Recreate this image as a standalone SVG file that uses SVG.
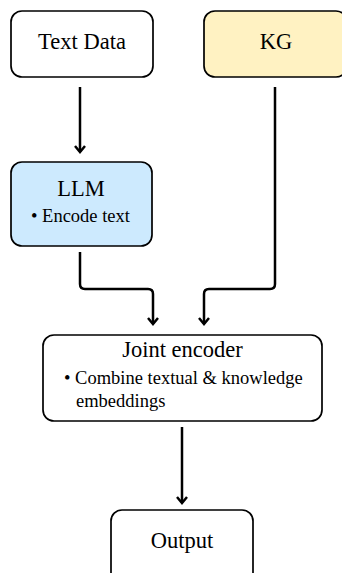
<svg xmlns="http://www.w3.org/2000/svg" width="342" height="573" viewBox="0 0 342 573">
<style>
.box{stroke:#000;stroke-width:1.7}
.t{font-family:"Liberation Serif","Times New Roman",serif;fill:#000}
.title{font-size:22.5px;text-anchor:middle}
.body{font-size:18.5px}
.c{fill:none;stroke:#000;stroke-width:2.5}
</style>
<defs>
<marker id="ah" viewBox="-9 -7 11 14" refX="0" refY="0" markerWidth="11" markerHeight="14" orient="auto" markerUnits="userSpaceOnUse">
<path d="M-6,-5 L0,0 L-6,5" fill="none" stroke="#000" stroke-width="2.5"/>
</marker>
</defs>
<rect width="342" height="573" fill="#fff"/>
<g id="connectors">
<path class="c" d="M80,87 V152" marker-end="url(#ah)"/>
<path class="c" d="M275,87 V284 Q275,289 270,289 H209 Q204,289 204,294 V324" marker-end="url(#ah)"/>
<path class="c" d="M80,252 V284 Q80,289 85,289 H148 Q153,289 153,294 V324" marker-end="url(#ah)"/>
<path class="c" d="M182,427 V503" marker-end="url(#ah)"/>
</g>
<g id="text-data">
<rect class="box" x="11" y="11" width="142" height="66" rx="11" fill="#fff"/>
<text class="t title" x="82" y="49">Text Data</text>
</g>
<g id="kg">
<rect class="box" x="204" y="11" width="143" height="66" rx="11" fill="#FFF2C2"/>
<text class="t title" x="276" y="49">KG</text>
</g>
<g id="llm">
<rect class="box" x="11" y="162" width="141" height="84" rx="11" fill="#CDEAFE"/>
<text class="t title" x="81" y="196">LLM</text>
<text class="t body" x="31" y="222">• Encode text</text>
</g>
<g id="joint-encoder">
<rect class="box" x="43" y="335" width="279" height="86" rx="11" fill="#fff"/>
<text class="t title" x="182.5" y="357">Joint encoder</text>
<text class="t body" x="64" y="384">• Combine textual &amp; knowledge</text>
<text class="t body" x="76" y="407">embeddings</text>
</g>
<g id="output">
<rect class="box" x="111" y="510" width="142" height="80" rx="11" fill="#fff"/>
<text class="t title" x="182" y="548">Output</text>
</g>
</svg>
